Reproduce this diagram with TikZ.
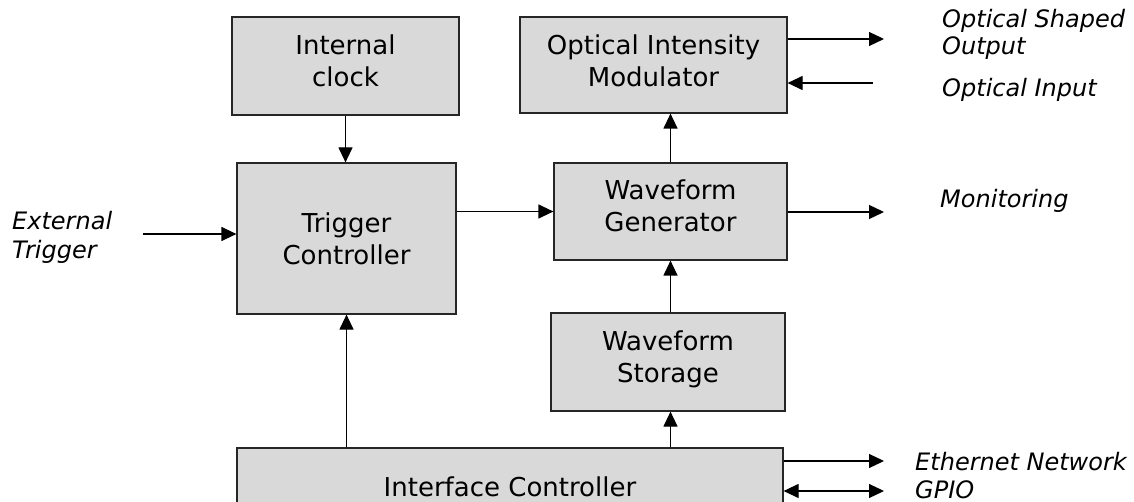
\documentclass[tikz,border=0pt]{standalone}
\usepackage{fontspec}
\setmainfont{DejaVu Sans}
\usetikzlibrary{arrows.meta,calc}
\definecolor{boxgray}{HTML}{D9D9D9}
\definecolor{edgegray}{HTML}{262626}
\newcommand\boxfont{\fontsize{26}{32}\selectfont}
\newcommand\lblfont{\fontsize{24}{28}\selectfont\itshape}
\begin{document}
\begin{tikzpicture}[x=1pt,y=-1pt,
  box/.style={draw=edgegray, line width=1.2pt, fill=boxgray, align=center, inner sep=0pt, font=\boxfont},
  arr/.style={-{Triangle[length=15pt,width=14pt]}, line width=1.2pt},
  dblarr/.style={{Triangle[length=15pt,width=14pt]}-{Triangle[length=15pt,width=14pt]}, line width=1.2pt},
  lbl/.style={font=\lblfont, anchor=base west, inner sep=0pt}]
\useasboundingbox (0,0) rectangle (1134,502);
\fill[white] (0,0) rectangle (1134,502);

% blocks
\node[box, minimum width=227pt, minimum height=98pt, text depth=10pt] (clock) at (345.5,66) {Internal\\clock};
\node[box, minimum width=219pt, minimum height=151pt] (trigger) at (346.5,238.5) {Trigger\\Controller};
\node[box, minimum width=267pt, minimum height=96pt, text depth=8pt] (OIM) at (653.5,65) {Optical Intensity\\Modulator};
\node[box, minimum width=233pt, minimum height=97pt, text depth=11pt] (WG) at (670.5,211.5) {Waveform\\Generator};
\node[box, minimum width=234pt, minimum height=98pt, text depth=10pt] (WS) at (668,362) {Waveform\\Storage};
\begin{scope}
\clip (0,0) rectangle (1134,502);
\node[box, minimum width=546pt, minimum height=78pt] (IC) at (510,487) {Interface Controller};
\end{scope}

% free ends
\coordinate (extin) at (143,234);
\coordinate (optout) at (884,39);
\coordinate (optin) at (873,83);
\coordinate (mon) at (884,212);
\coordinate (eth) at (884,461);
\coordinate (gpio) at (884,491);

% connectors
\draw[arr] (clock.south) -- (clock.south |- trigger.north);
\draw[arr] (trigger.east |- WG.west) -- (WG.west);
\draw[arr] (IC.north -| trigger.south) -- (trigger.south);
\draw[arr] (WG.north) -- (WG.north |- OIM.south);
\draw[arr] (WS.north -| WG.south) -- (WG.south);
\draw[arr] (IC.north -| WG.south) -- (WS.south -| WG.south);
\draw[arr] (extin) -- (extin -| trigger.west);
\draw[arr] (OIM.east |- optout) -- (optout);
\draw[arr] (optin) -- (optin -| OIM.east);
\draw[arr] (WG.east |- mon) -- (mon);
\draw[arr] (IC.east |- eth) -- (eth);
\draw[dblarr] (IC.east |- gpio) -- (gpio);

% labels
\node[lbl] (ext1) at (12,230) {External};
\node[lbl] (ext2) at (12,259) {Trigger};
\node[lbl] (out1) at (942,28) {Optical Shaped};
\node[lbl] (out2) at (942,55) {Output};
\node[lbl] (inlbl) at (942,97) {Optical Input};
\node[lbl] (monlbl) at (940,208) {Monitoring};
\node[lbl] (ethlbl) at (915,470) {Ethernet Network};
\node[lbl] (gpiolbl) at (915,498) {GPIO};
\end{tikzpicture}
\end{document}
